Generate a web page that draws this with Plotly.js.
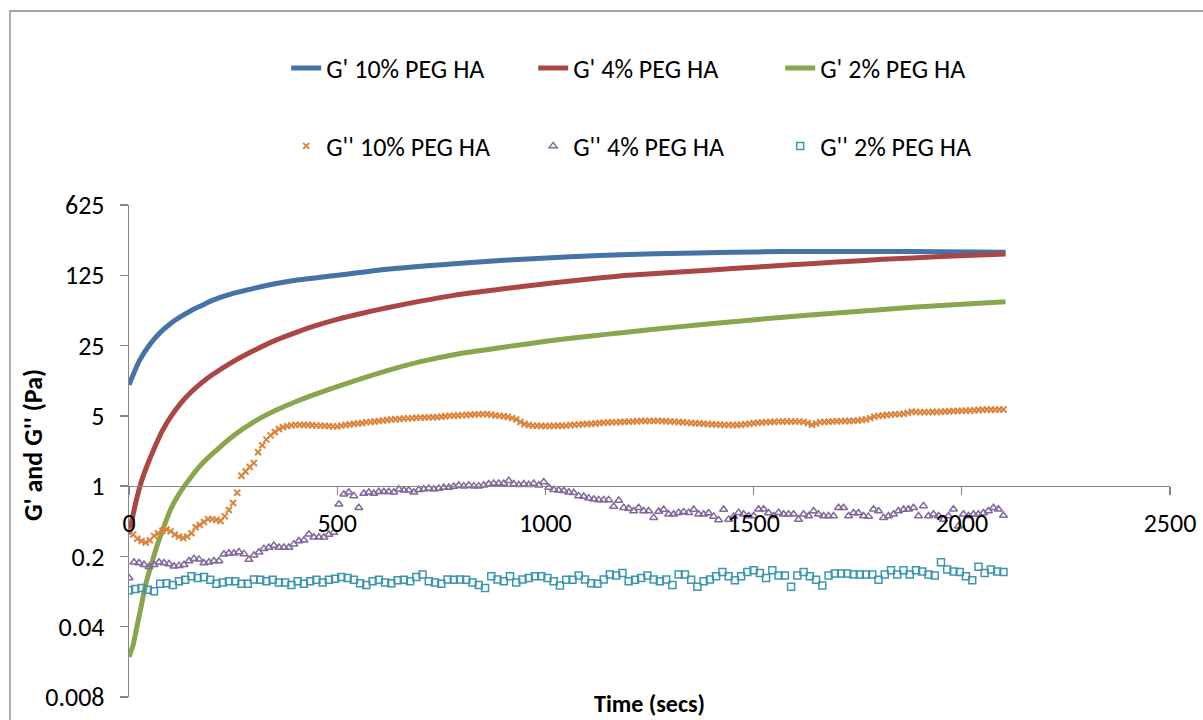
<!DOCTYPE html>
<html>
<head>
<meta charset="utf-8">
<script src="https://cdn.plot.ly/plotly-3.0.1.min.js"></script>
<style>html,body{margin:0;padding:0;background:#fff;}#chart{width:1203px;height:720px;}</style>
</head>
<body>
<div id="chart"></div>
<script>
// ---- G' (storage modulus) smooth curves ----
const tG10 = [0,10,25,50,75,100,125,150,175,200,250,300,350,400,500,620,780,900,1060,1200,1330,1450,1570,1700,1810,1950,2105];
const gp10 = [10.2,12.8,17.7,25.6,33.7,41.5,48.7,55.9,62.7,70.3,82.6,92.7,102.8,111.4,125,143.4,162.8,176.5,191.2,201,207.3,212,215,216,216,214.5,212];

const tG4 = [0,10,20,30,45,60,80,100,125,150,175,200,250,300,350,400,450,500,560,620,700,780,900,1011,1100,1200,1331,1450,1571,1700,1811,1950,2105];
const gp4 = [0.332,0.525,0.795,1.12,1.66,2.34,3.54,4.89,6.74,8.68,10.7,12.8,17.3,22.3,28.0,33.7,39.6,45.5,52.4,59.5,69.1,78.9,91.7,104,114,125,135.5,145.8,157,169.3,180.2,191.7,203.6];

const tG2 = [0,10,20,30,40,55,70,85,100,120,140,170,200,250,300,350,400,500,620,700,780,900,1011,1100,1200,1331,1450,1571,1700,1811,1950,2105];
const gp2 = [0.0201,0.0264,0.0419,0.0663,0.105,0.174,0.276,0.408,0.589,0.832,1.096,1.58,2.09,3.16,4.36,5.61,6.9,9.74,14.07,17.3,20.3,24.1,27.9,30.8,34.2,38.8,43.2,47.8,52.8,57.2,62.7,68.3];

// ---- G'' (loss modulus) sampled points ----
const tL10 = [
0,10,20,30,40,50,60,70,80,90,100,110,120,130,140,150,160,170,180,190,
200,210,220,230,240,250,260,270,280,290,300,310,320,330,340,350,360,370,380,390,
400,410,420,430,440,450,460,470,480,490,500,510,520,530,540,550,560,570,580,590,
600,610,620,630,640,650,660,670,680,690,700,710,720,730,740,750,760,770,780,790,
800,810,820,830,840,850,860,870,880,890,900,910,920,930,940,950,960,970,980,990,
1000,1010,1020,1030,1040,1050,1060,1070,1080,1090,1100,1110,1120,1130,1140,1150,1160,1170,1180,1190,
1200,1210,1220,1230,1240,1250,1260,1270,1280,1290,1300,1310,1320,1330,1340,1350,1360,1370,1380,1390,
1400,1410,1420,1430,1440,1450,1460,1470,1480,1490,1500,1510,1520,1530,1540,1550,1560,1570,1580,1590,
1600,1610,1620,1630,1640,1650,1660,1670,1680,1690,1700,1710,1720,1730,1740,1750,1760,1770,1780,1790,
1800,1810,1820,1830,1840,1850,1860,1870,1880,1890,1900,1910,1920,1930,1940,1950,1960,1970,1980,1990,
2000,2010,2020,2030,2040,2050,2060,2070,2080,2090,2100];
const gpp10 = [
0.36,0.33,0.30,0.285,0.275,0.29,0.32,0.34,0.36,0.37,
0.355,0.33,0.315,0.305,0.315,0.34,0.39,0.41,0.44,0.47,
0.47,0.46,0.45,0.5,0.58,0.68,0.86,1.27,1.4,1.55,
1.7,2.17,2.55,2.9,3.2,3.45,3.7,3.85,3.95,4.02,
4.07,4.07,4.05,4.05,4.03,4.0,4.0,3.98,3.95,3.93,
3.93,4.0,4.05,4.1,4.15,4.2,4.25,4.33,4.35,4.4,
4.45,4.5,4.55,4.6,4.62,4.66,4.7,4.72,4.75,4.78,
4.8,4.82,4.84,4.85,4.88,4.9,4.95,5.0,5.02,5.05,
5.08,5.1,5.12,5.15,5.18,5.2,5.18,5.12,5.05,5.0,
4.95,4.88,4.75,4.6,4.35,4.15,4.05,4.0,3.98,3.97,
3.97,3.97,3.98,3.98,3.99,4.0,4.05,4.07,4.1,4.12,
4.15,4.18,4.2,4.25,4.27,4.3,4.32,4.33,4.35,4.37,
4.38,4.4,4.42,4.44,4.45,4.46,4.46,4.46,4.45,4.42,
4.4,4.38,4.35,4.32,4.28,4.25,4.22,4.2,4.17,4.15,
4.12,4.1,4.08,4.07,4.07,4.06,4.06,4.08,4.12,4.17,
4.22,4.27,4.3,4.33,4.35,4.37,4.38,4.39,4.39,4.4,
4.4,4.39,4.35,4.25,4.08,4.2,4.33,4.36,4.38,4.4,
4.42,4.43,4.44,4.45,4.47,4.5,4.55,4.6,4.75,4.9,
5.0,5.05,5.1,5.14,5.18,5.2,5.25,5.35,5.5,5.48,
5.45,5.44,5.45,5.46,5.48,5.5,5.52,5.55,5.57,5.58,
5.6,5.62,5.64,5.68,5.72,5.76,5.78,5.75,5.76,5.78,
5.78];

const tL4 = [
0,12,24,36,48,60,72,84,96,108,120,132,144,156,168,180,192,204,216,228,
240,252,264,276,288,300,312,324,336,348,360,372,384,396,408,420,432,444,456,468,
480,492,504,516,528,540,552,564,576,588,600,612,624,636,648,660,672,684,696,708,
720,732,744,756,768,780,792,804,816,828,840,852,864,876,888,900,912,924,936,948,
960,972,984,996,1008,1020,1032,1044,1056,1068,1080,1092,1104,1116,1128,1140,1152,1164,1176,1188,
1200,1212,1224,1236,1248,1260,1272,1284,1296,1308,1320,1332,1344,1356,1368,1380,1392,1404,1416,1428,
1440,1452,1464,1476,1488,1500,1512,1524,1536,1548,1560,1572,1584,1596,1608,1620,1632,1644,1656,1668,
1680,1692,1704,1716,1728,1740,1752,1764,1776,1788,1800,1812,1824,1836,1848,1860,1872,1884,1896,1908,
1920,1932,1944,1956,1968,1980,1992,2004,2016,2028,2040,2052,2064,2076,2088,2100];
const gpp4 = [
0.122,0.175,0.172,0.165,0.158,0.165,0.175,0.172,0.168,0.16,
0.162,0.165,0.18,0.19,0.187,0.172,0.175,0.18,0.18,0.21,
0.215,0.215,0.221,0.212,0.186,0.205,0.22,0.239,0.245,0.257,
0.245,0.245,0.245,0.265,0.285,0.29,0.332,0.31,0.31,0.31,
0.33,0.345,0.661,0.83,0.87,0.8,0.61,0.845,0.87,0.845,
0.88,0.88,0.88,0.87,0.933,0.91,0.91,0.87,0.92,0.933,
0.95,0.933,0.95,0.97,0.97,0.99,1.02,1.0,1.02,1.0,
1.0,1.02,1.05,1.06,1.06,1.06,1.13,1.05,1.03,1.05,
1.03,1.06,1.02,1.1,0.97,0.92,0.91,0.9,0.87,0.86,
0.8,0.79,0.76,0.74,0.73,0.73,0.73,0.627,0.72,0.61,
0.6,0.567,0.61,0.567,0.567,0.486,0.56,0.585,0.525,0.525,
0.545,0.555,0.545,0.585,0.525,0.525,0.54,0.5,0.46,0.585,
0.465,0.5,0.545,0.525,0.505,0.505,0.59,0.59,0.54,0.505,
0.545,0.525,0.525,0.525,0.465,0.525,0.505,0.567,0.525,0.505,
0.505,0.505,0.61,0.61,0.505,0.54,0.54,0.505,0.5,0.59,
0.567,0.486,0.505,0.525,0.567,0.585,0.59,0.61,0.505,0.636,
0.505,0.525,0.505,0.465,0.505,0.59,0.40,0.525,0.505,0.525,
0.525,0.54,0.567,0.61,0.59,0.51];

const tL2 = [
0,15,30,45,60,75,90,105,120,135,150,165,180,195,210,225,240,255,270,285,
300,315,330,345,360,375,390,405,420,435,450,465,480,495,510,525,540,555,570,585,
600,615,630,645,660,675,690,705,720,735,750,765,780,795,810,825,840,855,870,885,
900,915,930,945,960,975,990,1005,1020,1035,1050,1065,1080,1095,1110,1125,1140,1155,1170,1185,
1200,1215,1230,1245,1260,1275,1290,1305,1320,1335,1350,1365,1380,1395,1410,1425,1440,1455,1470,1485,
1500,1515,1530,1545,1560,1575,1590,1605,1620,1635,1650,1665,1680,1695,1710,1725,1740,1755,1770,1785,
1800,1815,1830,1845,1860,1875,1890,1905,1920,1935,1950,1965,1980,1995,2010,2025,2040,2055,2070,2085,
2100];
const gpp2 = [
0.092,0.095,0.097,0.093,0.09,0.107,0.108,0.104,0.113,0.117,
0.127,0.122,0.125,0.117,0.107,0.11,0.113,0.113,0.107,0.107,
0.118,0.117,0.113,0.117,0.11,0.11,0.104,0.113,0.107,0.113,
0.117,0.11,0.117,0.12,0.125,0.122,0.117,0.108,0.104,0.113,
0.117,0.11,0.108,0.116,0.117,0.113,0.125,0.132,0.113,0.11,
0.107,0.118,0.117,0.118,0.117,0.11,0.104,0.097,0.127,0.118,
0.113,0.127,0.11,0.118,0.122,0.127,0.127,0.122,0.113,0.103,
0.117,0.117,0.129,0.118,0.108,0.107,0.118,0.132,0.129,0.137,
0.113,0.117,0.122,0.129,0.118,0.113,0.118,0.104,0.132,0.132,
0.117,0.1,0.113,0.118,0.127,0.14,0.127,0.116,0.127,0.14,
0.146,0.137,0.122,0.146,0.129,0.129,0.1,0.129,0.14,0.127,
0.117,0.103,0.129,0.135,0.135,0.135,0.132,0.132,0.132,0.132,
0.117,0.132,0.146,0.132,0.146,0.132,0.146,0.142,0.132,0.129,
0.175,0.148,0.142,0.14,0.127,0.116,0.158,0.137,0.148,0.142,
0.14];

// ---- axes / labels ----
const yTickVals = [0.008, 0.04, 0.2, 1, 5, 25, 125, 625];
const yTickText = ['0.008', '0.04', '0.2', '1', '5', '25', '125', '625'];
const xTickVals = [0, 500, 1000, 1500, 2000, 2500];
const seriesNames = ["G' 10% PEG HA", "G' 4% PEG HA", "G' 2% PEG HA", "G'' 10% PEG HA", "G'' 4% PEG HA", "G'' 2% PEG HA"];
const colors = ['#4572A7', '#AA4643', '#89A54E', '#DB843D', '#80699B', '#3D96AE'];

const FONT = 'Carlito, Calibri, Lato, sans-serif';
const FS = 26;

const lineTrace = (x, y, i) => ({
  x: x, y: y, name: seriesNames[i], type: 'scatter', mode: 'lines',
  line: {color: colors[i], width: 5, shape: 'spline', smoothing: 0.6},
  legend: 'legend'
});
const markTrace = (x, y, i, sym, size, lw) => ({
  x: x, y: y, name: seriesNames[i], type: 'scatter', mode: 'markers',
  marker: {symbol: sym, size: size, color: colors[i], line: {color: colors[i], width: lw}},
  legend: 'legend2'
});

const data = [
  lineTrace(tG10, gp10, 0),
  lineTrace(tG4, gp4, 1),
  lineTrace(tG2, gp2, 2),
  markTrace(tL10, gpp10, 3, 'x-thin-open', 6, 2),
  markTrace(tL4, gpp4, 4, 'triangle-up-open', 7, 1.5),
  markTrace(tL2, gpp2, 5, 'square-open', 7, 1.5)
];

const yMin = Math.log10(0.008), yMax = Math.log10(625);
const xPos = (0 - yMin) / (yMax - yMin);

const layout = {
  width: 1203, height: 720,
  margin: {l: 129, r: 33, t: 205, b: 23, pad: 0},
  paper_bgcolor: '#ffffff', plot_bgcolor: '#ffffff',
  font: {family: FONT, size: FS, color: '#000000'},
  showlegend: true,
  xaxis: {
    range: [0, 2500], anchor: 'free', position: xPos,
    tickvals: xTickVals, ticktext: xTickVals.map(String),
    ticks: 'outside', ticklen: 8, tickcolor: '#868686', tickwidth: 1.3,
    showline: true, linecolor: '#868686', linewidth: 1.3,
    showgrid: false, zeroline: false, ticklabelstandoff: 5,
    tickfont: {family: FONT, size: FS, color: '#000'}
  },
  yaxis: {
    type: 'log', range: [yMin, yMax], domain: [0, 1],
    tickvals: yTickVals, ticktext: yTickText,
    ticks: 'outside', ticklen: 8, tickcolor: '#868686', tickwidth: 1.3,
    showline: true, linecolor: '#868686', linewidth: 1.3,
    showgrid: false, zeroline: false, ticklabelstandoff: 10,
    tickfont: {family: FONT, size: FS, color: '#000'}
  },
  legend: {
    orientation: 'h', x: 0.151, xanchor: 'left', y: (697 - 68) / 492, yanchor: 'middle',
    entrywidth: 202, entrywidthmode: 'pixels', bgcolor: 'rgba(0,0,0,0)',
    font: {family: FONT, size: FS, color: '#000'}, traceorder: 'normal', itemclick: false
  },
  legend2: {
    orientation: 'h', x: 0.151, xanchor: 'left', y: (697 - 146) / 492, yanchor: 'middle',
    entrywidth: 202, entrywidthmode: 'pixels', bgcolor: 'rgba(0,0,0,0)',
    font: {family: FONT, size: FS, color: '#000'}, traceorder: 'normal', itemclick: false
  },
  annotations: [
    {text: '<b>Time (secs)</b>', xref: 'paper', yref: 'paper', x: 0.5, y: (697 - 703) / 492,
     xanchor: 'center', yanchor: 'middle', showarrow: false, font: {family: FONT, size: 24, color: '#000'}},
    {text: "<b>G' and G'' (Pa)</b>", xref: 'paper', yref: 'paper', x: (33 - 129) / 1041, y: (697 - 445) / 492,
     xanchor: 'center', yanchor: 'middle', textangle: -90, showarrow: false, font: {family: FONT, size: FS, color: '#000'}}
  ],
  shapes: [
    {type: 'rect', xref: 'paper', yref: 'paper', x0: (10 - 129) / 1041, x1: 1.2, y0: -0.2, y1: (697 - 11) / 492,
     line: {color: '#868686', width: 1.3}, fillcolor: 'rgba(0,0,0,0)', layer: 'below'}
  ]
};

Plotly.newPlot('chart', data, layout, {displayModeBar: false, staticPlot: true});
</script>
</body>
</html>
